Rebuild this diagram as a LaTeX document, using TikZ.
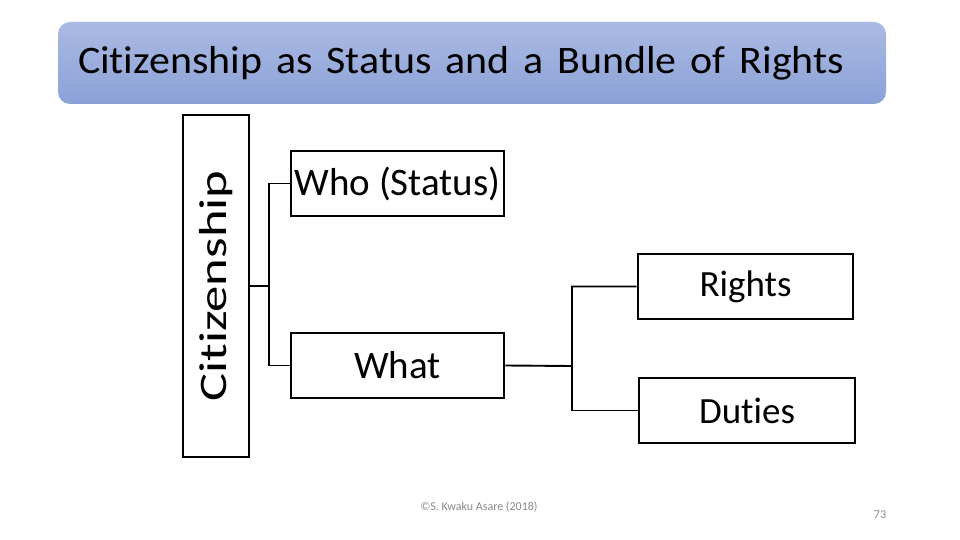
\documentclass[tikz,border=0pt]{standalone}
\usepackage{fontspec}
\setmainfont[Ligatures=NoCommon]{Carlito}
\usepackage{xcolor}
\usepackage{tikz}

\definecolor{bannertop}{RGB}{171,186,228}
\definecolor{bannerbot}{RGB}{139,161,214}
\definecolor{footgray}{RGB}{137,137,137}

\begin{document}
\begin{tikzpicture}[x=1pt,y=-1pt,
	box/.style={draw,line width=2.8pt,inner sep=0pt,minimum height=65pt},
	big/.style={font=\fontsize{39}{44}\selectfont},
	mid/.style={font=\fontsize{37}{42}\selectfont},
	conn/.style={line width=1.9pt},
	foot/.style={text=footgray,inner sep=0pt,font=\fontsize{12}{14}\selectfont}]
		\useasboundingbox (0,0) rectangle (960,540);
		% title banner
		\node[rounded corners=12pt,top color=bannertop,bottom color=bannerbot,
			minimum width=828pt,minimum height=82pt,inner xsep=20pt,
			text width=788pt,align=left,big] (title) at (472,63)
			{\scalebox{1.075}[1]{Citizenship as Status and a Bundle of Rights}};
		%
		\node[box,big,rotate=90,minimum width=342pt,minimum height=66pt] (cit) at (216,286)
			{\scalebox{1.35}[1]{Citizenship}};
		\node[box,big,minimum width=213pt] (who) at (397.5,183.5) {Who (Status)};
		\node[box,big,minimum width=213pt] (what) at (397.5,365.5) {What};
		\node[box,mid,minimum width=215pt] (rights) at (745.5,286.5) {Rights};
		\node[box,mid,minimum width=216pt] (duties) at (747,410.5) {Duties};
		\coordinate (j1) at (269,286);
		\coordinate (j2) at (572,366);
		%
		% left branch
		\draw[conn] (cit.south) -- (j1) |- (who.west);
		\draw[conn] (j1) |- (what.west);
		% right branch
		\draw[conn] (what.east) -- (j2) |- (rights.west);
		\draw[conn] (j2) |- (duties.west);
		%
		\node[foot] (copy) at (479,507) {©S. Kwaku Asare (2018)};
		\node[foot] (page) at (880,515) {73};
\end{tikzpicture}
\end{document}
